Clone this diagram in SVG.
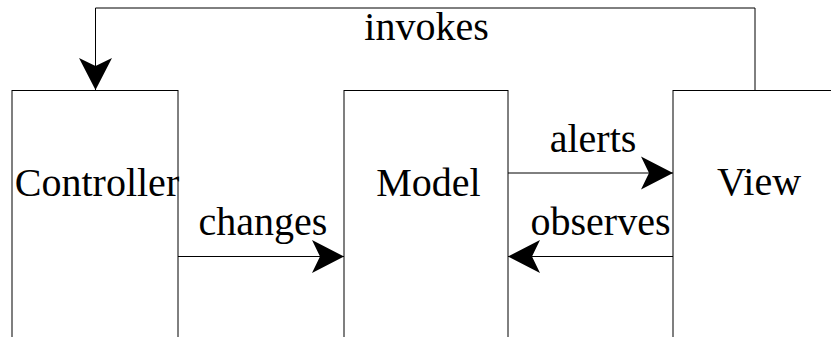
<svg xmlns="http://www.w3.org/2000/svg" width="831" height="337" viewBox="0 0 831 337">
<style>
.box{fill:#fff;stroke:#000;stroke-width:1}
.lbl{font-family:'Liberation Serif','DejaVu Serif',serif;font-size:40px;fill:#000;text-anchor:middle}
.conn{fill:none;stroke:#000;stroke-width:1}
</style>
<defs>
<marker id="ah" markerUnits="userSpaceOnUse" viewBox="-33 -18 34 36" markerWidth="34" markerHeight="36" refX="0" refY="0" orient="auto">
<path d="M0,0 L-32,-16.5 L-24,0 L-32,16.5 Z" fill="#000"/>
</marker>
</defs>
<rect width="831" height="337" fill="#fff"/>
<g id="controller">
<rect class="box" x="12" y="90.5" width="166" height="260"/>
<text class="lbl" font-family="Liberation Serif" x="97" y="196">Controller</text>
</g>
<g id="model">
<rect class="box" x="344" y="90.5" width="164" height="260"/>
<text class="lbl" x="428.5" y="196">Model</text>
</g>
<g id="view">
<rect class="box" x="673" y="90.5" width="166" height="260"/>
<text class="lbl" x="759" y="195">View</text>
</g>
<g id="connectors">
<polyline class="conn" points="755,90.5 755,8 95.5,8 95.5,90" marker-end="url(#ah)"/>
<text class="lbl" x="426.5" y="40">invokes</text>
<line class="conn" x1="508" y1="173" x2="673" y2="173" marker-end="url(#ah)"/>
<text class="lbl" x="593" y="152">alerts</text>
<line class="conn" x1="178" y1="256.5" x2="344" y2="256.5" marker-end="url(#ah)"/>
<text class="lbl" x="263" y="235">changes</text>
<line class="conn" x1="673" y1="256.5" x2="508" y2="256.5" marker-end="url(#ah)"/>
<text class="lbl" x="600.5" y="235">observes</text>
</g>
</svg>
